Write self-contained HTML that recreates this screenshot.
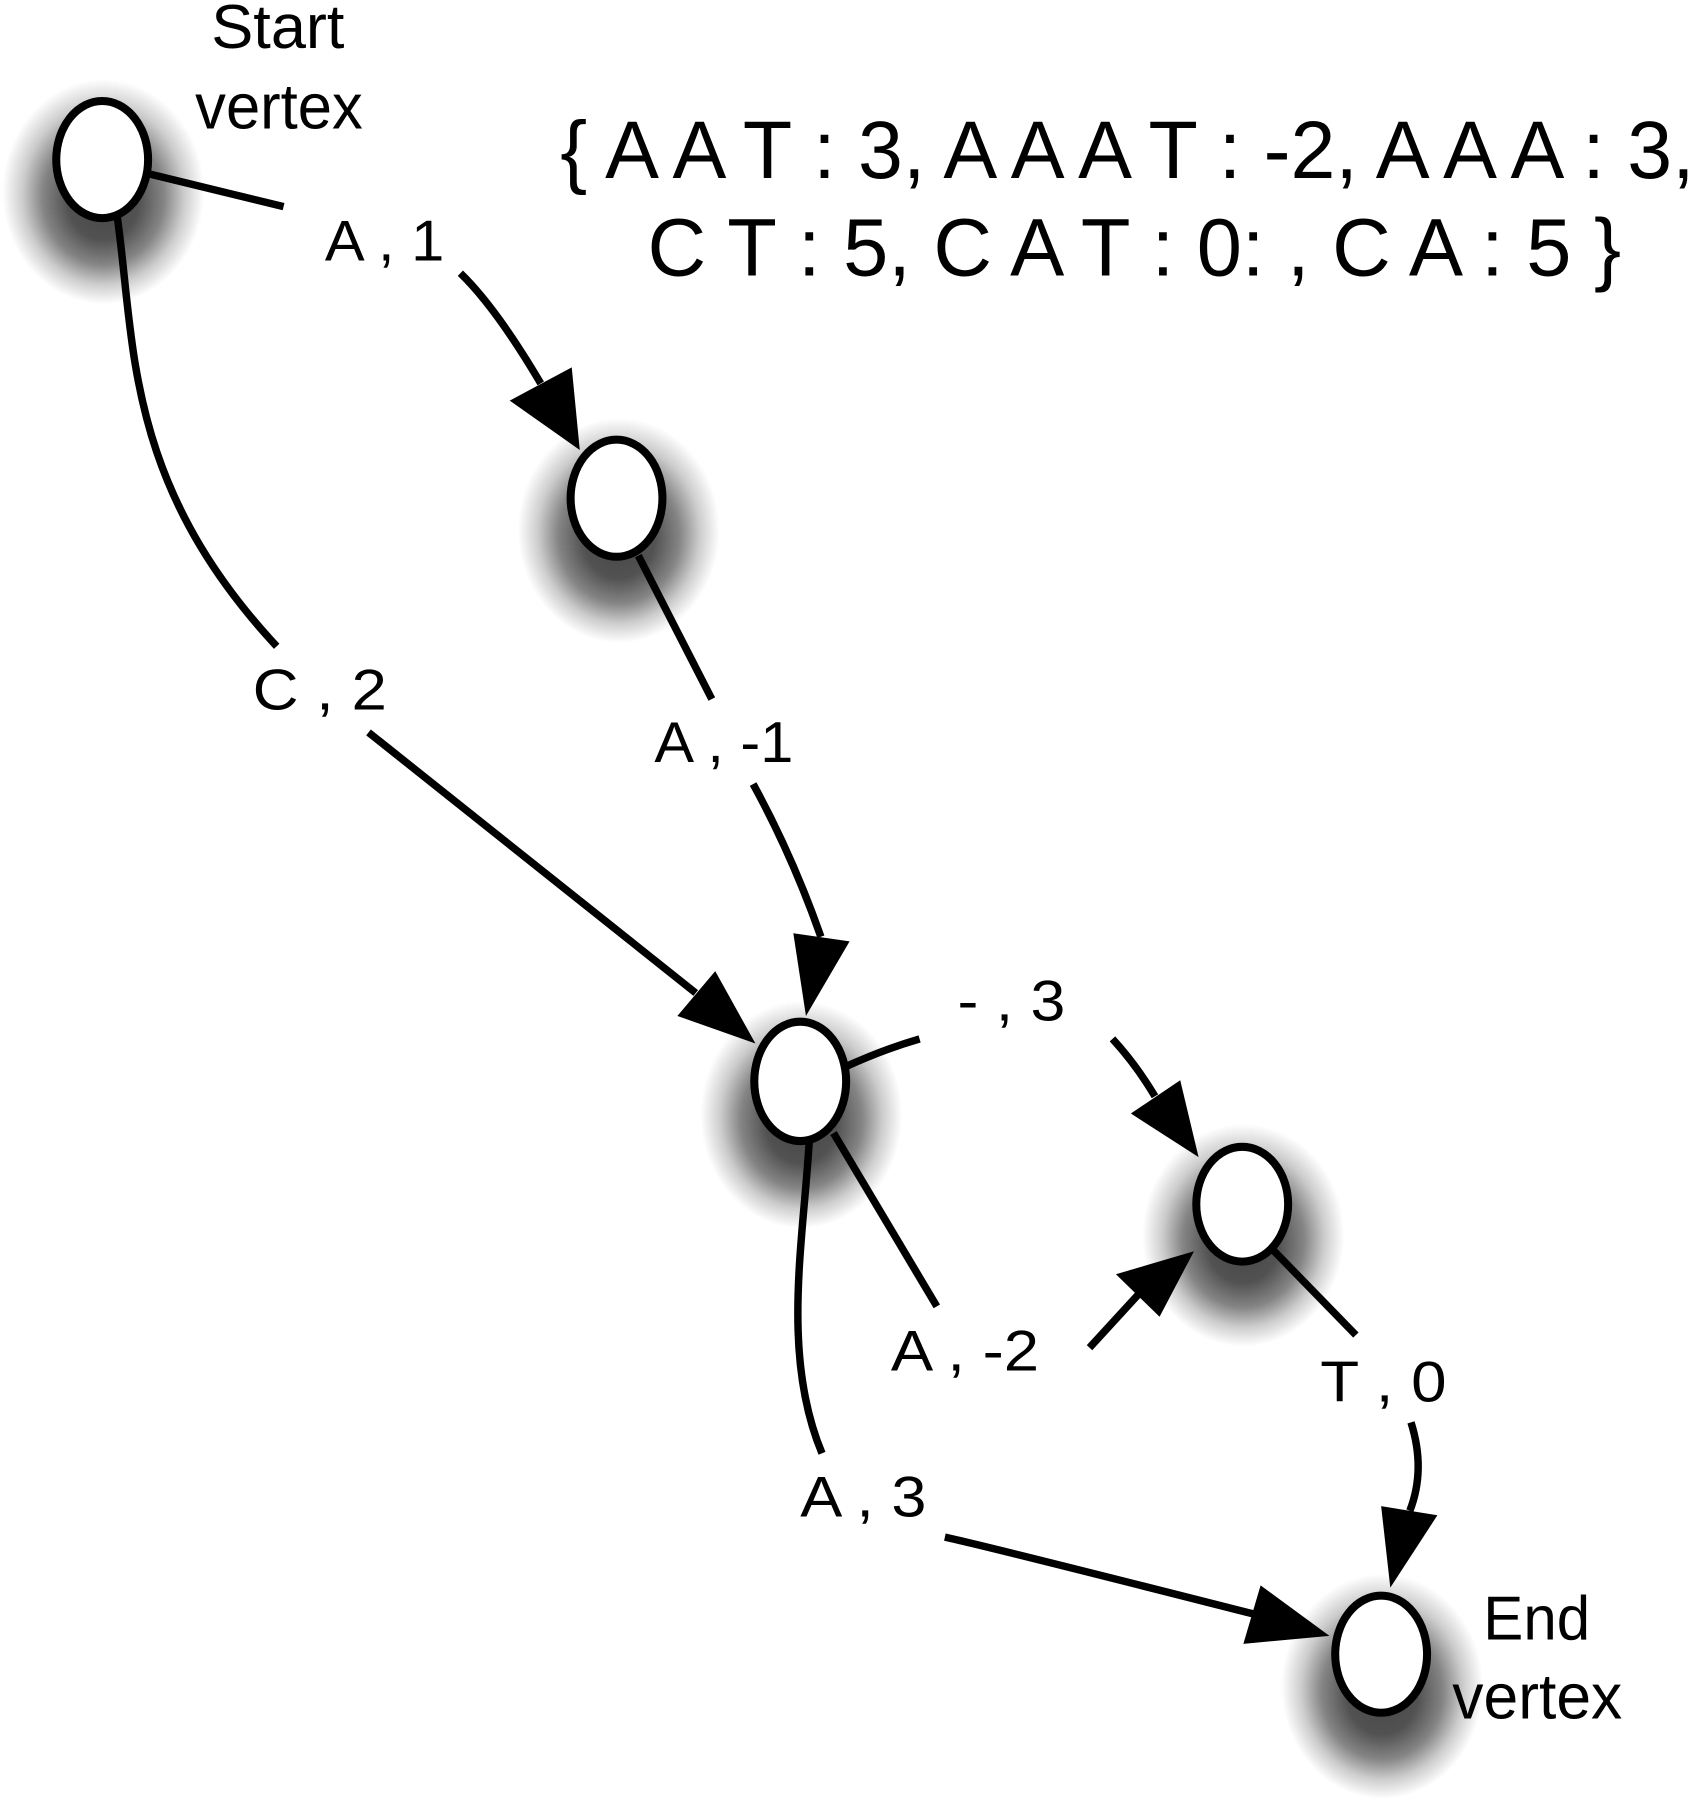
<!DOCTYPE html>
<html>
<head>
<meta charset="utf-8">
<style>
  html, body { margin: 0; padding: 0; background: #ffffff; }
  svg { display: block; }
  text { font-family: "Liberation Sans", Arial, sans-serif; fill: #000; }
</style>
</head>
<body>
<svg width="1698" height="1800" viewBox="0 0 1479 1568" preserveAspectRatio="none" xmlns="http://www.w3.org/2000/svg">
  <defs>
    <radialGradient id="shg" cx="0.5" cy="0.5" r="0.5" fx="0.5" fy="0.56">
      <stop offset="0" stop-color="#000" stop-opacity="0.72"/>
      <stop offset="0.35" stop-color="#000" stop-opacity="0.68"/>
      <stop offset="0.6" stop-color="#000" stop-opacity="0.48"/>
      <stop offset="0.8" stop-color="#000" stop-opacity="0.2"/>
      <stop offset="1" stop-color="#000" stop-opacity="0"/>
    </radialGradient>
  </defs>
  <rect x="0" y="0" width="1479" height="1568" fill="#ffffff"/>

  <!-- shadows -->
  <g fill="url(#shg)">
    <ellipse cx="90" cy="167" rx="88" ry="98"/>
    <ellipse cx="539" cy="462" rx="88" ry="98"/>
    <ellipse cx="698" cy="971" rx="88" ry="99"/>
    <ellipse cx="1083" cy="1076" rx="88" ry="97"/>
    <ellipse cx="1204" cy="1469" rx="88" ry="98"/>
  </g>

  <!-- edges -->
  <g fill="none" stroke="#000" stroke-width="6.5" stroke-linecap="butt">
    <path d="M128,151 L247,180"/>
    <path d="M401,238 Q432,268 471,334"/>
    <path d="M102,188 C118,300 108,420 241,563"/>
    <path d="M321,638 L606,865"/>
    <path d="M556,484 L620,609"/>
    <path d="M656,683 Q690,745 715,816"/>
    <path d="M737,929 Q770,914 801,905"/>
    <path d="M969,905 Q990,928 1006,955"/>
    <path d="M726,987 L816,1138"/>
    <path d="M949,1174 L993,1126"/>
    <path d="M705,992 C700,1080 680,1180 716,1266"/>
    <path d="M823,1339 Q860,1347 1092,1406"/>
    <path d="M1108,1088 L1181,1163"/>
    <path d="M1229,1239 Q1242,1280 1228,1316"/>
  </g>

  <!-- arrowheads -->
  <g fill="#000">
    <polygon points="444,349 498,320 505,392"/>
    <polygon points="590,885 623,846 658,909"/>
    <polygon points="691,813 740,820 702,885"/>
    <polygon points="985,970 1028,941 1044,1008"/>
    <polygon points="972,1110 1010,1147 1040,1090"/>
    <polygon points="1083,1432 1098,1381 1158,1425"/>
    <polygon points="1203,1312 1252,1320 1211,1383"/>
  </g>

  <!-- nodes -->
  <g fill="#fff" stroke="#000" stroke-width="7">
    <ellipse cx="89" cy="139" rx="40" ry="51"/>
    <ellipse cx="537" cy="434" rx="40" ry="51"/>
    <ellipse cx="697" cy="942" rx="40" ry="52"/>
    <ellipse cx="1082" cy="1049" rx="40" ry="50"/>
    <ellipse cx="1203" cy="1441" rx="40" ry="51"/>
  </g>

  <!-- vertex labels -->
  <text x="184" y="42" font-size="54" textLength="116" lengthAdjust="spacingAndGlyphs">Start</text>
  <text x="170" y="112" font-size="56" textLength="146" lengthAdjust="spacingAndGlyphs">vertex</text>
  <text x="1292" y="1428" font-size="54" textLength="93" lengthAdjust="spacingAndGlyphs">End</text>
  <text x="1265" y="1497" font-size="56" textLength="148" lengthAdjust="spacingAndGlyphs">vertex</text>

  <!-- set text -->
  <text x="488" y="155" font-size="71" textLength="988" lengthAdjust="spacingAndGlyphs">{ A A T : 3, A A A T : -2, A A A : 3,</text>
  <text x="564" y="240" font-size="71" textLength="848" lengthAdjust="spacingAndGlyphs">C T : 5, C A T : 0: , C A : 5 }</text>

  <!-- edge labels -->
  <g font-size="50">
    <text x="283" y="227" textLength="104" lengthAdjust="spacingAndGlyphs">A , 1</text>
    <text x="220" y="618" textLength="117" lengthAdjust="spacingAndGlyphs">C , 2</text>
    <text x="570" y="664" textLength="121" lengthAdjust="spacingAndGlyphs">A , -1</text>
    <text x="834" y="889" textLength="94" lengthAdjust="spacingAndGlyphs">- , 3</text>
    <text x="776" y="1194" textLength="129" lengthAdjust="spacingAndGlyphs">A , -2</text>
    <text x="1150" y="1221" textLength="110" lengthAdjust="spacingAndGlyphs">T , 0</text>
    <text x="697" y="1321" textLength="110" lengthAdjust="spacingAndGlyphs">A , 3</text>
  </g>
</svg>
</body>
</html>
